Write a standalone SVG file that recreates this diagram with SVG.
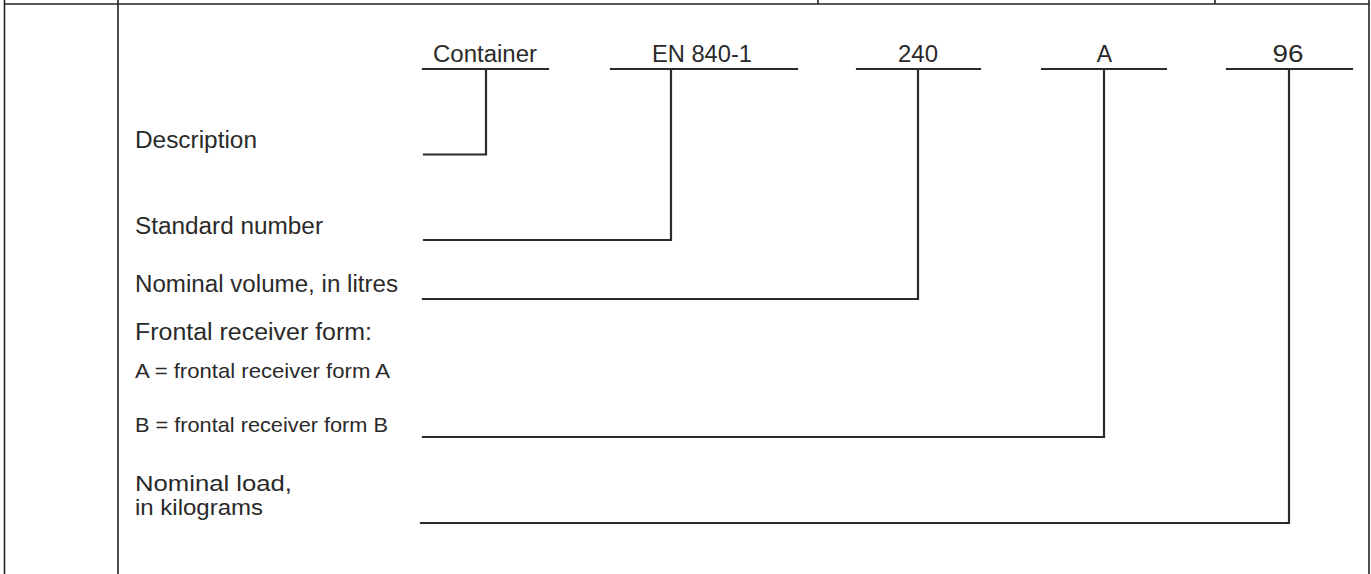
<svg xmlns="http://www.w3.org/2000/svg" width="1371" height="574" viewBox="0 0 1371 574">
<style>
.frame{stroke:#222;stroke-width:1.6;fill:none}
.conn{stroke:#2b2b2b;stroke-width:2.2;fill:none;stroke-linecap:square}
text{font-family:"Liberation Sans",Arial,sans-serif;fill:#2a2a2a}
.big{font-size:23px}
.mid{font-size:21px}
.two{font-size:21.5px}
.top{font-size:23px;text-anchor:middle}
</style>
<rect width="1371" height="574" fill="#ffffff"/>
<g id="frame">
<line class="frame" x1="4" y1="4" x2="1369" y2="4"/>
<line class="frame" x1="4.5" y1="0" x2="4.5" y2="574"/>
<line class="frame" x1="118" y1="0" x2="118" y2="574"/>
<line class="frame" x1="1369" y1="0" x2="1369" y2="574"/>
<line class="frame" x1="818" y1="0" x2="818" y2="4"/>
<line class="frame" x1="1215" y1="0" x2="1215" y2="4"/>
</g>
<g id="connectors">
<path class="conn" d="M423 69H548M486 69V154.5H424"/>
<path class="conn" d="M611 69H797M671 69V240H424"/>
<path class="conn" d="M857 69H980M918 69V299H423"/>
<path class="conn" d="M1042 69H1166M1104 69V437H423"/>
<path class="conn" d="M1227 69H1352M1289 69V523H421"/>
</g>
<g id="code-container"><text class="top" x="485" y="62" textLength="104" lengthAdjust="spacingAndGlyphs">Container</text></g>
<g id="code-standard"><text class="top" x="702" y="62" textLength="100" lengthAdjust="spacingAndGlyphs">EN 840-1</text></g>
<g id="code-volume"><text class="top" x="918" y="62" textLength="40" lengthAdjust="spacingAndGlyphs">240</text></g>
<g id="code-form"><text class="top" x="1104.5" y="62">A</text></g>
<g id="code-load"><text class="top" x="1288" y="62" textLength="31" lengthAdjust="spacingAndGlyphs">96</text></g>
<g id="label-description"><text class="big" x="135" y="148" textLength="122" lengthAdjust="spacingAndGlyphs">Description</text></g>
<g id="label-standard"><text class="big" x="135" y="234" textLength="188" lengthAdjust="spacingAndGlyphs">Standard number</text></g>
<g id="label-volume"><text class="big" x="135" y="292" textLength="263" lengthAdjust="spacingAndGlyphs">Nominal volume, in litres</text></g>
<g id="label-form">
<text class="big" x="135" y="340" textLength="237" lengthAdjust="spacingAndGlyphs">Frontal receiver form:</text>
<text class="mid" x="135" y="378" textLength="255" lengthAdjust="spacingAndGlyphs">A = frontal receiver form A</text>
<text class="mid" x="135" y="432" textLength="253" lengthAdjust="spacingAndGlyphs">B = frontal receiver form B</text>
</g>
<g id="label-load">
<text class="two" x="135" y="491" textLength="157" lengthAdjust="spacingAndGlyphs">Nominal load,</text>
<text class="two" x="135" y="515" textLength="128" lengthAdjust="spacingAndGlyphs">in kilograms</text>
</g>
</svg>
